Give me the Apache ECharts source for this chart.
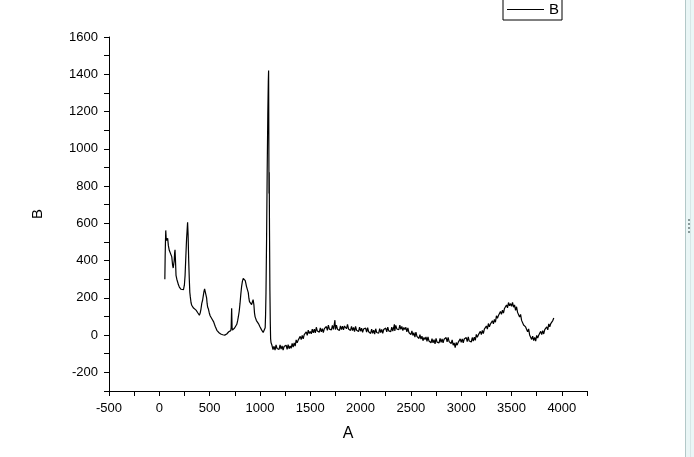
<!DOCTYPE html>
<html>
<head>
<meta charset="utf-8">
<title>B vs A</title>
<script src="https://cdn.jsdelivr.net/npm/echarts@6/dist/echarts.min.js"></script>
<style>
html, body { margin: 0; padding: 0; background: #fff; }
#chart { width: 694px; height: 457px; }
</style>
</head>
<body>
<div id="chart"></div>
<script>
// axis ticks
var xTicks = [-500, 0, 500, 1000, 1500, 2000, 2500, 3000, 3500, 4000];
var yTicks = [-200, 0, 200, 400, 600, 800, 1000, 1200, 1400, 1600];

// low wavenumber part: sharp peaks, [A, B]
var peakRegion = [
  [55,300],[58,420],[61,500],[64,562],[68,520],[72,508],[77,500],[83,519],[90,480],[99,455],
  [108,465],[116,446],[124,420],[132,375],[138,360],[142,357],[148,400],[152,440],[156,458],[160,410],
  [166,321],[174,300],[182,285],[190,270],[199,258],[208,250],[216,246],[224,241],[232,252],[240,244],
  [249,268],[256,320],[262,400],[268,480],[271,517],[276,560],[281,606],[286,540],[292,400],[298,300],
  [303,230],[308,205],[315,175],[322,160],[331,151],[340,145],[348,140],[356,138],[365,134],[374,126],
  [382,120],[390,112],[398,107],[406,118],[414,140],[422,170],[430,187],[438,215],[444,235],[450,248],
  [457,258],[463,240],[470,200],[475,170],[480,151],[488,140],[496,120],[505,104],[514,98],[522,88],
  [530,80],[540,71],[548,58],[556,46],[564,36],[572,26],[580,18],[590,14],[600,10],[610,6],
  [620,3],[630,2],[640,4],[650,0],[660,3],[670,6],[680,12],[690,18],[700,27],[710,24],
  [714,40],[717,110],[719,144],[721,90],[723,40],[727,27],[734,34],[740,28],[748,38],[755,42],
  [762,45],[770,58],[778,76],[786,100],[794,128],[802,170],[810,220],[818,262],[826,290],[834,304],
  [842,312],[848,304],[854,292],[860,278],[866,262],[872,260],[878,256],[884,228],[890,198],[896,180],
  [903,176],[910,170],[917,164],[924,160],[928,172],[932,190],[936,198],[940,162],[946,118],[952,98],
  [958,88],[965,78],[972,72],[978,82],[985,62],[993,52],[1000,45],[1008,37],[1016,28],[1024,20],
  [1032,14],[1040,11],[1046,16],[1052,40],[1056,110],[1060,225],[1066,520],[1072,880],[1078,1180],[1083,1360],
  [1086,1420],[1088,1100],[1090,760],[1092,874],[1095,560],[1099,240],[1103,60],[1106,-20]
];

// noisy baseline after the main peak, [A, B]
var baseRegion = [
  [1110,-40],[1120,-56],[1130,-78],[1140,-60],[1150,-81],[1160,-52],[1170,-72],[1180,-63],[1190,-77],[1200,-53],
  [1210,-75],[1220,-58],[1230,-80],[1240,-61],[1250,-70],[1260,-54],[1270,-76],[1280,-51],[1290,-73],[1300,-58],
  [1310,-71],[1320,-45],[1330,-64],[1340,-42],[1350,-59],[1360,-26],[1370,-41],[1380,-27],[1390,-36],[1400,-7],
  [1410,-24],[1420,-2],[1430,-20],[1440,3],[1450,-2],[1460,17],[1470,-1],[1480,27],[1490,8],[1500,20],
  [1510,7],[1520,32],[1530,12],[1540,32],[1550,12],[1560,42],[1570,22],[1580,31],[1590,16],[1600,39],
  [1610,17],[1620,34],[1630,14],[1640,35],[1650,28],[1660,46],[1670,26],[1680,53],[1690,32],[1700,42],
  [1710,28],[1720,52],[1730,31],[1740,62],[1745,80],[1750,30],[1760,54],[1770,32],[1780,39],[1790,25],
  [1800,49],[1810,29],[1820,48],[1830,28],[1840,49],[1850,56],[1860,34],[1870,57],[1880,33],[1890,41],
  [1900,25],[1910,47],[1920,24],[1930,41],[1940,19],[1950,47],[1960,26],[1970,34],[1980,19],[1990,43],
  [2000,21],[2010,37],[2020,15],[2030,33],[2040,24],[2050,38],[2060,16],[2070,40],[2080,18],[2090,26],
  [2100,9],[2110,32],[2120,9],[2130,27],[2140,5],[2150,34],[2160,14],[2170,24],[2180,10],[2190,35],
  [2200,13],[2210,31],[2220,10],[2230,30],[2240,21],[2250,38],[2260,17],[2270,43],[2280,23],[2290,33],
  [2300,19],[2310,43],[2320,22],[2330,42],[2336,58],[2340,22],[2350,52],[2360,33],[2370,42],[2380,29],
  [2390,53],[2400,31],[2410,47],[2420,24],[2430,41],[2440,30],[2450,42],[2460,17],[2470,39],[2480,14],
  [2490,21],[2500,3],[2510,23],[2520,-2],[2530,13],[2540,-11],[2550,16],[2560,-7],[2570,-1],[2580,-18],
  [2590,3],[2600,-21],[2610,-6],[2620,-30],[2630,-13],[2640,-24],[2650,-10],[2660,-33],[2670,-9],[2680,-32],
  [2690,-24],[2700,-41],[2710,-19],[2720,-42],[2730,-25],[2740,-47],[2750,-18],[2760,-38],[2770,-28],[2780,-42],
  [2790,-17],[2800,-39],[2810,-21],[2820,-42],[2830,-22],[2840,-30],[2850,-13],[2860,-36],[2870,-12],[2880,-35],
  [2890,-28],[2900,-45],[2910,-26],[2920,-54],[2930,-42],[2940,-67],[2950,-40],[2960,-54],[2970,-39],[2980,-48],
  [2990,-20],[3000,-39],[3010,-20],[3020,-41],[3030,-21],[3040,-30],[3050,-13],[3060,-35],[3070,-10],[3080,-32],
  [3090,-23],[3100,-37],[3110,-13],[3120,-32],[3130,-11],[3140,-28],[3150,4],[3160,-12],[3170,1],[3180,-9],
  [3190,20],[3200,3],[3210,25],[3220,8],[3230,32],[3240,28],[3250,49],[3260,32],[3270,62],[3280,45],
  [3290,59],[3300,49],[3310,77],[3320,60],[3330,84],[3340,69],[3350,104],[3360,90],[3370,105],[3380,97],
  [3390,127],[3400,111],[3410,134],[3420,118],[3430,143],[3440,140],[3450,162],[3460,146],[3470,175],[3480,157],
  [3490,169],[3500,155],[3510,176],[3520,150],[3530,162],[3540,133],[3550,152],[3560,122],[3570,121],[3580,97],
  [3590,111],[3600,79],[3610,86],[3620,54],[3630,63],[3640,44],[3650,50],[3660,18],[3670,33],[3680,1],
  [3690,0],[3700,-23],[3710,-6],[3720,-30],[3730,-12],[3740,-32],[3750,-2],[3760,-16],[3770,-1],[3780,-9],
  [3790,20],[3800,3],[3810,24],[3820,6],[3830,29],[3840,24],[3850,44],[3860,28],[3870,60],[3880,45],
  [3890,62],[3900,57],[3910,78],[3920,92]
];

var spectrum = peakRegion.concat(baseRegion);

var chart = echarts.init(document.getElementById('chart'));
var font = 'Liberation Sans, Arial, sans-serif';

var option = {
  animation: false,
  backgroundColor: '#fff',
  grid: { left: 109, top: 37, right: 107, bottom: 66 },
  legend: {
    left: 503, top: -1,
    padding: [3, 3, 3, 4],
    borderColor: '#000', borderWidth: 1,
    icon: 'rect',
    itemWidth: 37, itemHeight: 1, itemGap: 5,
    itemStyle: { color: '#000' },
    textStyle: { color: '#000', fontSize: 15, fontFamily: font },
    data: ['B']
  },
  xAxis: {
    type: 'value',
    min: -500, max: 4250, interval: 250,
    name: 'A', nameLocation: 'middle', nameGap: 35,
    nameTextStyle: { color: '#000', fontSize: 16, fontFamily: font },
    axisLine: { onZero: false, lineStyle: { color: '#000', width: 1 } },
    axisTick: { length: 5, lineStyle: { color: '#000' } },
    axisLabel: {
      color: '#000', fontSize: 13, fontFamily: font, margin: 11,
      formatter: function (v) { return xTicks.indexOf(v) >= 0 ? String(v) : ''; }
    },
    splitLine: { show: false }
  },
  yAxis: {
    type: 'value',
    min: -300, max: 1600, interval: 100,
    name: 'B', nameLocation: 'middle', nameGap: 64,
    nameTextStyle: { color: '#000', fontSize: 15, fontFamily: font },
    axisLine: { show: true, onZero: false, lineStyle: { color: '#000', width: 1 } },
    axisTick: { show: true, length: 5, lineStyle: { color: '#000' } },
    axisLabel: {
      color: '#000', fontSize: 13, fontFamily: font, margin: 11,
      formatter: function (v) { return yTicks.indexOf(v) >= 0 ? String(v) : ''; }
    },
    splitLine: { show: false }
  },
  series: [{
    name: 'B',
    type: 'line',
    symbol: 'none',
    data: spectrum,
    lineStyle: { color: '#000', width: 1.2 },
    itemStyle: { color: '#000' }
  }],
  // window scrollbar strip on the right edge
  graphic: [
    { type: 'rect', shape: { x: 686, y: 0, width: 8, height: 457 }, style: { fill: '#eaf6f6' }, silent: true },
    { type: 'line', shape: { x1: 685.5, y1: 0, x2: 685.5, y2: 457 }, style: { stroke: '#b3c8c8', lineWidth: 1 }, silent: true },
    { type: 'line', shape: { x1: 690.5, y1: 0, x2: 690.5, y2: 457 }, style: { stroke: '#d6e6e6', lineWidth: 1 }, silent: true },
    { type: 'rect', shape: { x: 688, y: 219, width: 2, height: 2 }, style: { fill: '#8a9a9a' }, silent: true },
    { type: 'rect', shape: { x: 688, y: 223, width: 2, height: 2 }, style: { fill: '#8a9a9a' }, silent: true },
    { type: 'rect', shape: { x: 688, y: 227, width: 2, height: 2 }, style: { fill: '#8a9a9a' }, silent: true },
    { type: 'rect', shape: { x: 688, y: 231, width: 2, height: 2 }, style: { fill: '#8a9a9a' }, silent: true }
  ]
};

chart.setOption(option);
</script>
</body>
</html>
